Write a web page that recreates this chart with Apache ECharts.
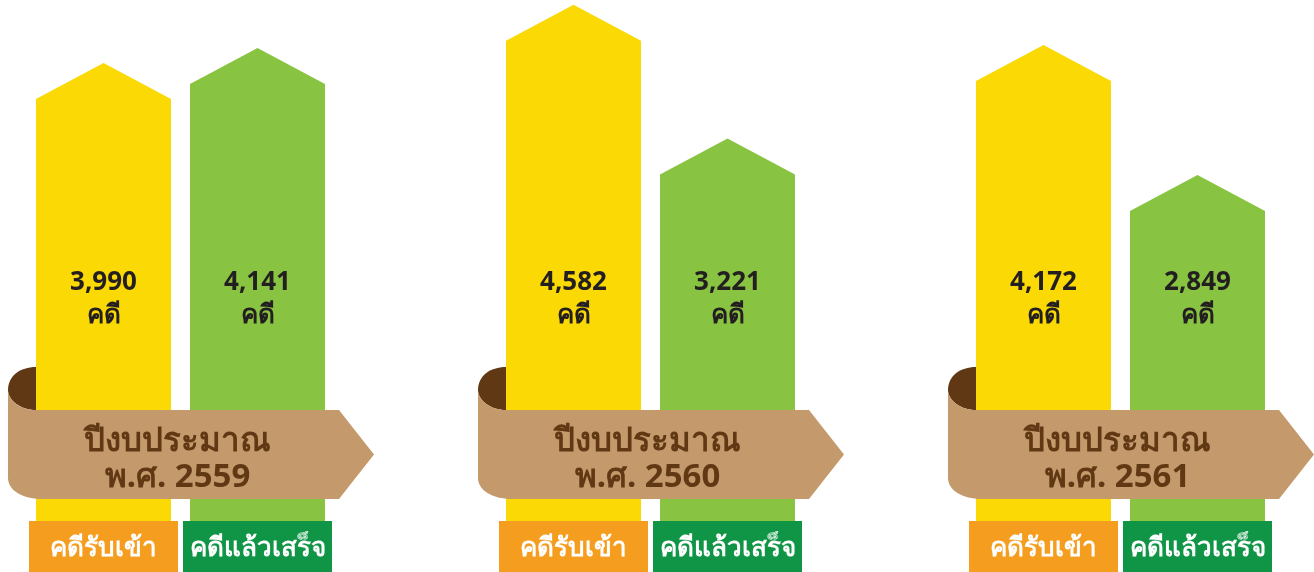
<!DOCTYPE html>
<html lang="th">
	<head>
		<meta charset="UTF-8" />
		<title>คดีรับเข้า / คดีแล้วเสร็จ</title>
		<style>
			body {
				margin: 0;
				padding: 0;
				background: #fff;
			}
			.chart {
				width: 1314px;
				height: 572px;
			}
		</style>
	</head>
	<body>
		<div class="chart"></div>
		<script src="https://cdn.jsdelivr.net/npm/echarts@6/dist/echarts.min.js"></script>
		<script>
			// ข้อมูล
			const years = ['2559', '2560', '2561'];
			const received = [3990, 4582, 4172];
			const finished = [4141, 3221, 2849];
			const seriesNames = ['คดีรับเข้า', 'คดีแล้วเสร็จ'];
			const ribbonTitle = 'ปีงบประมาณ';
			const unit = 'คดี';

			const FONT = '"Noto Sans", "DejaVu Sans", sans-serif';
			const Y_MIN = -670;
			const Y_MAX = 4630;

			const fmt = v => v.toLocaleString('en-US');

			// แท่งลูกศร + ตัวเลข + ป้ายด้านล่าง
			function barItem(offset, fill, boxFill, name) {
				return function (params, api) {
					const idx = api.value(0);
					const top = api.coord([idx, api.value(1)]);
					const base = api.coord([idx, Y_MIN])[1];
					const cx = top[0] + offset;
					const hw = 67.5;
					const head = 36;
					return {
						type: 'group',
						children: [
							{
								type: 'polygon',
								shape: {
									points: [
										[cx - hw, base],
										[cx - hw, top[1] + head],
										[cx, top[1]],
										[cx + hw, top[1] + head],
										[cx + hw, base]
									]
								},
								style: { fill: fill }
							},
							{
								type: 'text',
								style: {
									text: fmt(api.value(1)) + '\n' + unit,
									x: cx,
									y: 299,
									align: 'center',
									verticalAlign: 'middle',
									lineHeight: 33,
									fill: '#231F20',
									font: 'bold 26px ' + FONT
								}
							},
							{
								type: 'rect',
								shape: { x: cx - 74.5, y: base, width: 149, height: 572 - base },
								style: { fill: boxFill }
							},
							{
								type: 'text',
								style: {
									text: name,
									x: cx,
									y: base + 28,
									align: 'center',
									verticalAlign: 'middle',
									fill: '#fff',
									font: 'bold 26px ' + FONT
								}
							}
						]
					};
				};
			}

			// ริบบิ้นปีงบประมาณ
			function ribbonItem(params, api) {
				const idx = api.value(0);
				const c = api.coord([idx, Y_MIN]);
				const base = c[1];
				const L = c[0] - 172.5;
				const t = base - 154; // ยอดม้วน
				const bt = base - 111; // ขอบบนริบบิ้น
				const bb = base - 22; // ขอบล่างริบบิ้น
				const curl =
					'M' + (L + 28) + ',' + t +
					' C' + (L + 12) + ',' + t + ' ' + L + ',' + (t + 9) + ' ' + L + ',' + (t + 23) +
					' C' + L + ',' + (t + 33) + ' ' + (L + 12) + ',' + bt + ' ' + (L + 28) + ',' + bt + ' Z';
				const band =
					'M' + L + ',' + (t + 23) +
					' C' + L + ',' + (t + 33) + ' ' + (L + 12) + ',' + bt + ' ' + (L + 28) + ',' + bt +
					' L' + (L + 331) + ',' + bt +
					' L' + (L + 366) + ',' + (bt + bb) / 2 +
					' L' + (L + 331) + ',' + bb +
					' L' + (L + 34) + ',' + bb +
					' C' + (L + 14) + ',' + bb + ' ' + L + ',' + (bb - 9) + ' ' + L + ',' + (bb - 21) + ' Z';
				return {
					type: 'group',
					children: [
						{ type: 'path', shape: { pathData: curl }, style: { fill: '#603813' } },
						{ type: 'path', shape: { pathData: band }, style: { fill: '#C49A6C' } },
						{
							type: 'text',
							style: {
								text: ribbonTitle + '\nพ.ศ. ' + years[idx],
								x: c[0] - 3,
								y: (bt + bb) / 2 + 5,
								align: 'center',
								verticalAlign: 'middle',
								lineHeight: 36,
								fill: '#603813',
								font: 'bold 33px ' + FONT
							}
						}
					]
				};
			}

			const container = document.querySelector('.chart');
			const instance = echarts.init(container);
			const option = {
				animation: false,
				grid: { left: 180.5, right: 193.5, top: 0, bottom: 51 },
				xAxis: { type: 'category', data: years, boundaryGap: false, show: false },
				yAxis: { type: 'value', min: Y_MIN, max: Y_MAX, show: false },
				series: [
					{
						name: seriesNames[0],
						type: 'custom',
						z: 2,
						renderItem: barItem(-77, '#FBD905', '#F49D1F', seriesNames[0]),
						data: received.map((v, i) => [i, v])
					},
					{
						name: seriesNames[1],
						type: 'custom',
						z: 2,
						renderItem: barItem(77, '#88C441', '#0F9545', seriesNames[1]),
						data: finished.map((v, i) => [i, v])
					},
					{
						name: 'ribbon',
						type: 'custom',
						z: 3,
						renderItem: ribbonItem,
						data: years.map((y, i) => [i, 0])
					}
				]
			};
			instance.setOption(option);
		</script>
	</body>
</html>
